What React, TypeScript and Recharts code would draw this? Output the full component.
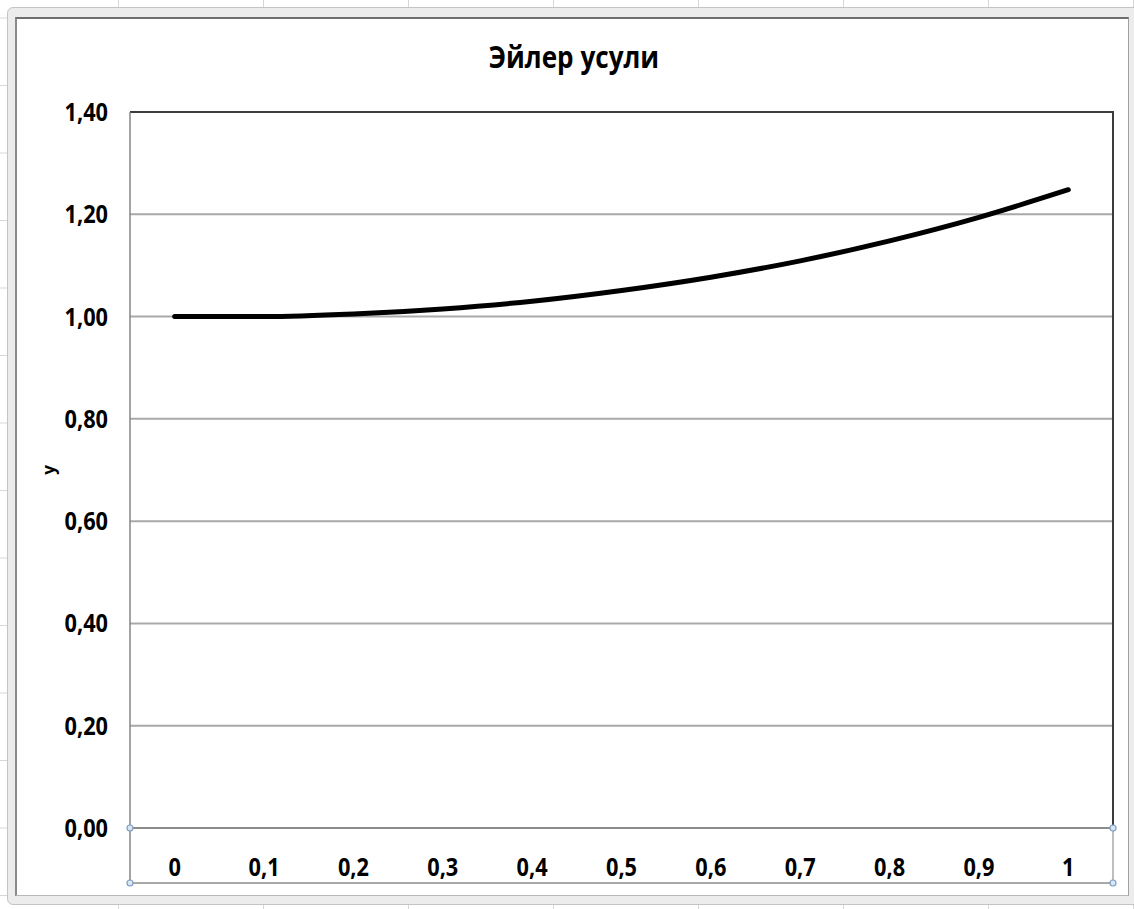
import React from 'react';
import { LineChart, Line, XAxis, YAxis, CartesianGrid } from 'recharts';

// Euler method steps, h = 0.1
const xValues = [0, 0.1, 0.2, 0.3, 0.4, 0.5, 0.6, 0.7, 0.8, 0.9, 1];
const yValues = [1.0, 1.0, 1.005, 1.015, 1.03, 1.051, 1.077, 1.109, 1.148, 1.194, 1.248];
const yTicks = [0, 0.2, 0.4, 0.6, 0.8, 1.0, 1.2, 1.4];

const chartTitle = 'Эйлер усули';
const yAxisTitle = 'y';

const data = xValues.map((x, i) => ({ x, y: yValues[i] }));

const W = 1134;
const H = 909;
// plot area edges in page coordinates
const PLOT_LEFT = 130;
const PLOT_RIGHT = 1113;
const PLOT_TOP = 112;
const PLOT_BOTTOM = 828;
const AXIS_BOX_BOTTOM = 883;
const Y_AXIS_W = 86;
const X_AXIS_H = 55;
const CAT_PAD = (PLOT_RIGHT - PLOT_LEFT) / (xValues.length * 2);

const FONT = "'Open Sans', 'Noto Sans', sans-serif";
// narrow the glyphs a little, the labels are set tall and tight
const SQUEEZE = 0.87;

const commaNum = (v: number, digits?: number) =>
  (digits === undefined ? String(v) : v.toFixed(digits)).replace('.', ',');

const XTick = ({ x, y, payload }: any) => (
  <g transform={`translate(${x},${y})`}>
    <text
      transform={`scale(${SQUEEZE},1)`}
      textAnchor="middle"
      dy={48}
      fill="#000"
      fontSize={25}
      fontWeight="bold"
      fontFamily={FONT}
    >
      {commaNum(payload.value)}
    </text>
  </g>
);

const YTick = ({ x, y, payload }: any) => (
  <g transform={`translate(${x},${y})`}>
    <text
      transform={`scale(${SQUEEZE},1)`}
      textAnchor="end"
      dy={9}
      fill="#000"
      fontSize={25}
      fontWeight="bold"
      fontFamily={FONT}
    >
      {commaNum(payload.value, 2)}
    </text>
  </g>
);

const Handle = ({ cx, cy }: { cx: number; cy: number }) => (
  <circle cx={cx} cy={cy} r={3} fill="#dbe6f3" stroke="#7e9fc4" strokeWidth={1.2} />
);

// plot border, axis label box and the selection handles of the category axis
const Frame = () => (
  <svg width={W} height={H} style={{ position: 'absolute', left: 0, top: 0, pointerEvents: 'none' }}>
    <line x1={PLOT_LEFT} y1={PLOT_TOP} x2={PLOT_RIGHT + 1} y2={PLOT_TOP} stroke="#3c3c3c" strokeWidth={2} />
    <line x1={PLOT_RIGHT} y1={PLOT_TOP} x2={PLOT_RIGHT} y2={PLOT_BOTTOM} stroke="#3c3c3c" strokeWidth={2} />
    <line x1={PLOT_LEFT} y1={PLOT_TOP} x2={PLOT_LEFT} y2={AXIS_BOX_BOTTOM} stroke="#858585" strokeWidth={1.5} />
    <line x1={PLOT_RIGHT} y1={PLOT_BOTTOM} x2={PLOT_RIGHT} y2={AXIS_BOX_BOTTOM} stroke="#a8a8a8" strokeWidth={1.5} />
    <line x1={PLOT_LEFT} y1={AXIS_BOX_BOTTOM} x2={PLOT_RIGHT} y2={AXIS_BOX_BOTTOM} stroke="#a8a8a8" strokeWidth={2} />
    <Handle cx={PLOT_LEFT} cy={PLOT_BOTTOM} />
    <Handle cx={PLOT_RIGHT} cy={PLOT_BOTTOM} />
    <Handle cx={PLOT_LEFT} cy={AXIS_BOX_BOTTOM} />
    <Handle cx={PLOT_RIGHT} cy={AXIS_BOX_BOTTOM} />
  </svg>
);

export default function App() {
  return (
    <div
      style={{
        position: 'fixed',
        left: 0,
        top: 0,
        width: W,
        height: H,
        overflow: 'hidden',
        backgroundColor: '#fff',
        backgroundImage:
          'linear-gradient(to right, #d6d6d6 1px, transparent 1px), linear-gradient(to bottom, #d6d6d6 1px, transparent 1px)',
        backgroundSize: '145px 67.5px',
        backgroundPosition: '118px 17.5px',
        fontFamily: FONT,
      }}
    >
      {/* selected chart object border */}
      <div
        style={{
          position: 'absolute',
          left: 7,
          top: 7,
          width: W,
          height: 898,
          background: '#ececec',
          border: '1px solid #c4c4c4',
          borderRadius: 6,
          boxSizing: 'border-box',
        }}
      />
      <div
        style={{
          position: 'absolute',
          left: 15,
          top: 17,
          width: 1114,
          height: 879,
          background: '#fff',
          borderTop: '2px solid #6e6e6e',
          borderLeft: '2px solid #8a8a8a',
          borderRight: '1px solid #a0a0a0',
          borderBottom: '1px solid #b8b8b8',
          boxSizing: 'border-box',
        }}
      />
      <div
        style={{
          position: 'absolute',
          left: 0,
          width: W,
          top: 36,
          textAlign: 'center',
          paddingLeft: 14,
          boxSizing: 'border-box',
        }}
      >
        <span
          style={{
            display: 'inline-block',
            fontSize: 30,
            fontWeight: 'bold',
            color: '#000',
            transform: `scaleX(${SQUEEZE})`,
            transformOrigin: 'center',
          }}
        >
          {chartTitle}
        </span>
      </div>
      <div style={{ position: 'absolute', left: 0, top: 0 }}>
        <LineChart
          width={W}
          height={H}
          data={data}
          margin={{
            top: PLOT_TOP,
            right: W - PLOT_RIGHT,
            bottom: H - PLOT_BOTTOM - X_AXIS_H,
            left: PLOT_LEFT - Y_AXIS_W,
          }}
        >
          <CartesianGrid horizontal vertical={false} stroke="#a9a9a9" strokeWidth={2} />
          <XAxis
            dataKey="x"
            type="category"
            height={X_AXIS_H}
            padding={{ left: CAT_PAD, right: CAT_PAD }}
            axisLine={{ stroke: '#8c8c8c', strokeWidth: 2 }}
            tickLine={false}
            tickSize={0}
            tickMargin={0}
            interval={0}
            tick={<XTick />}
          />
          <YAxis
            width={Y_AXIS_W}
            domain={[0, 1.4]}
            ticks={yTicks}
            interval={0}
            axisLine={false}
            tickLine={false}
            tickSize={0}
            tickMargin={22}
            tick={<YTick />}
            label={{
              value: yAxisTitle,
              angle: -90,
              position: 'insideLeft',
              offset: 5,
              style: { fill: '#000', fontSize: 17, fontWeight: 'bold', fontFamily: FONT, textAnchor: 'middle' },
            }}
          />
          <Line
            type="monotone"
            dataKey="y"
            stroke="#000"
            strokeWidth={5}
            strokeLinecap="round"
            dot={false}
            activeDot={false}
            isAnimationActive={false}
          />
        </LineChart>
      </div>
      <Frame />
    </div>
  );
}
